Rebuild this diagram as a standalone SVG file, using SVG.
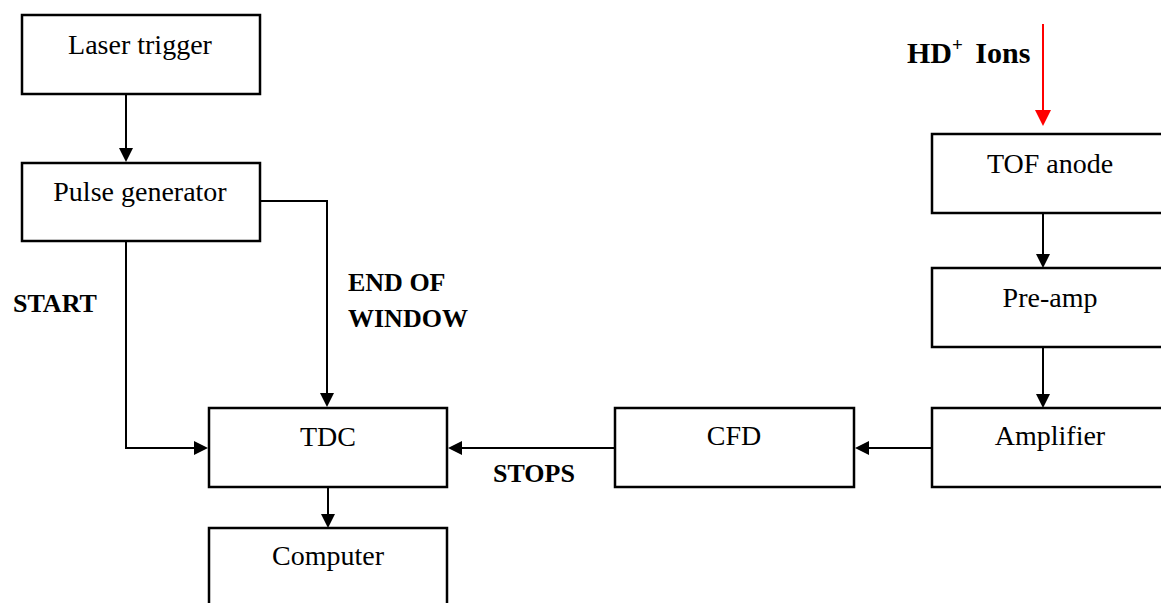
<svg xmlns="http://www.w3.org/2000/svg" width="1161" height="603" viewBox="0 0 1161 603">
<style>
.box{fill:#fff;stroke:#000;stroke-width:2.5}
.t{font-family:"Liberation Serif","Times New Roman",serif;font-size:28px;fill:#000;text-anchor:middle}
.b{font-family:"Liberation Serif","Times New Roman",serif;font-size:26px;font-weight:bold;fill:#000}
.hd{font-size:30px}
.sup{font-size:19px}
.c{fill:none;stroke:#000;stroke-width:2}
.ar{fill:#000}
</style>
<rect width="1161" height="603" fill="#fff"/>
<g id="connectors">
<line class="c" x1="126" y1="94" x2="126" y2="150"/>
<polygon class="ar" points="119,148 133,148 126,162"/>
<polyline class="c" points="260,201 327,201 327,395"/>
<polygon class="ar" points="320,393 334,393 327,407"/>
<polyline class="c" points="126,241 126,448 196,448"/>
<polygon class="ar" points="194,441 194,455 208,448"/>
<line class="c" x1="615" y1="448" x2="460" y2="448"/>
<polygon class="ar" points="462,441 462,455 448,448"/>
<line class="c" x1="932" y1="448" x2="867" y2="448"/>
<polygon class="ar" points="869,441 869,455 855,448"/>
<line class="c" x1="328" y1="487" x2="328" y2="516"/>
<polygon class="ar" points="321,514 335,514 328,528"/>
<line class="c" x1="1043" y1="213" x2="1043" y2="256"/>
<polygon class="ar" points="1036,254 1050,254 1043,268"/>
<line class="c" x1="1043" y1="347" x2="1043" y2="396"/>
<polygon class="ar" points="1036,394 1050,394 1043,408"/>
<line x1="1043" y1="24" x2="1043" y2="112" stroke="#ff0000" stroke-width="2"/>
<polygon points="1035,110 1051,110 1043,126" fill="#ff0000"/>
</g>
<g id="laser"><rect class="box" x="22" y="15" width="238" height="79"/><text class="t" x="140" y="54">Laser trigger</text></g>
<g id="pulse"><rect class="box" x="22" y="163" width="238" height="78"/><text class="t" x="140" y="201">Pulse generator</text></g>
<g id="tdc"><rect class="box" x="209" y="408" width="238" height="79"/><text class="t" x="328" y="446">TDC</text></g>
<g id="computer"><rect class="box" x="209" y="528" width="238" height="90"/><text class="t" x="328" y="565">Computer</text></g>
<g id="cfd"><rect class="box" x="615" y="408" width="239" height="79"/><text class="t" x="734" y="445">CFD</text></g>
<g id="tof"><rect class="box" x="932" y="134" width="240" height="79"/><text class="t" x="1050" y="173">TOF anode</text></g>
<g id="preamp"><rect class="box" x="932" y="268" width="240" height="79"/><text class="t" x="1050" y="307">Pre-amp</text></g>
<g id="amp"><rect class="box" x="932" y="408" width="240" height="79"/><text class="t" x="1050" y="445">Amplifier</text></g>
<g id="labels">
<text class="b" x="13" y="312">START</text>
<text class="b" x="348" y="291">END OF</text>
<text class="b" x="348" y="327">WINDOW</text>
<text class="b" x="493" y="482">STOPS</text>
<text class="b hd" x="907" y="63">HD<tspan class="sup" dy="-12">+</tspan><tspan dx="5" dy="12"> Ions</tspan></text>
</g>
</svg>
